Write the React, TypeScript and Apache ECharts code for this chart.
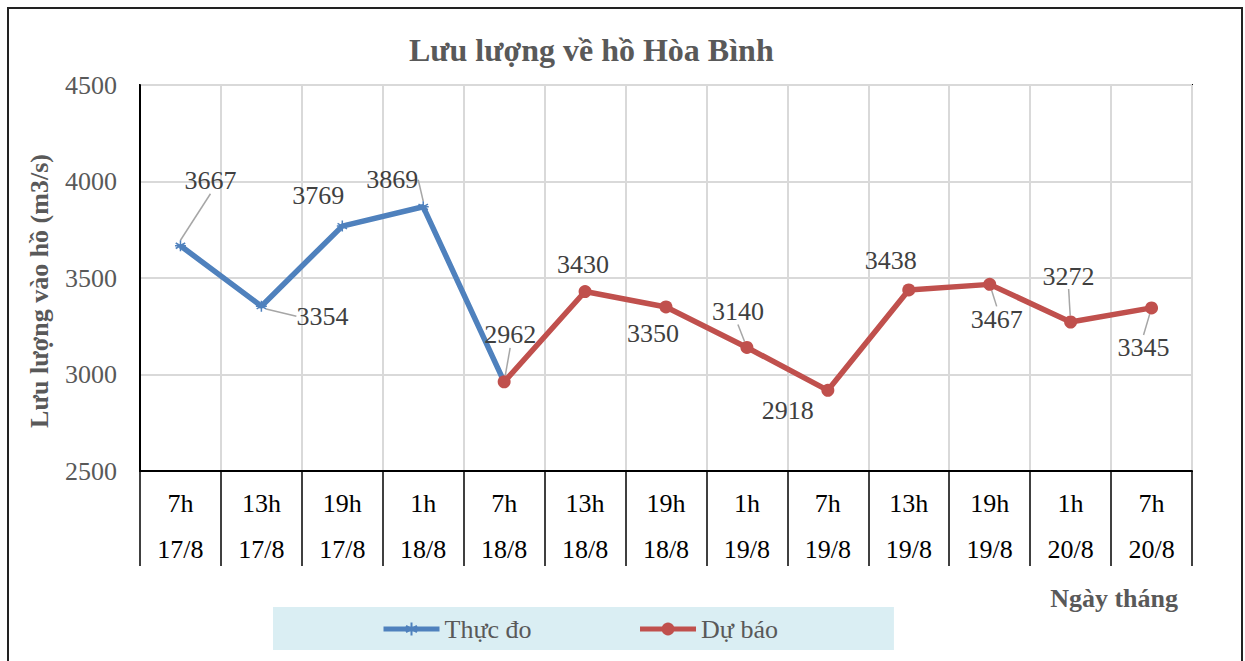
import React, { useEffect, useRef } from "react";
import * as echarts from "echarts";

const hourLabels = ["7h", "13h", "19h", "1h", "7h", "13h", "19h", "1h", "7h", "13h", "19h", "1h", "7h"];
const dateLabels = ["17/8", "17/8", "17/8", "18/8", "18/8", "18/8", "18/8", "19/8", "19/8", "19/8", "19/8", "20/8", "20/8"];
const measured: (number | null)[] = [3667, 3354, 3769, 3869, 2962, null, null, null, null, null, null, null, null];
const forecast: (number | null)[] = [null, null, null, null, 2962, 3430, 3350, 3140, 2918, 3438, 3467, 3272, 3345];
const yTicks = { min: 2500, max: 4500, interval: 500 };

// label offsets (dx, dy) relative to each point, and whether a leader line is drawn
const measuredLabelOffsets: [number, number, boolean][] = [
  [30, -65, true], [61, 10, true], [-24, -31, false], [-31, -27, true],
];
const forecastLabelOffsets: Record<number, [number, number, boolean]> = {
  4: [6, -47, true], 5: [-2, -27, false], 6: [-13, 27, false], 7: [-9, -36, true],
  8: [-40, 20, false], 9: [-18, -29, false], 10: [7, 35, true], 11: [-2, -46, true], 12: [-8, 40, true],
};

const FONT = "'Liberation Serif', 'Times New Roman', serif";
const BLUE = "#4F81BD";
const RED = "#C0504D";
const LABEL_COLOR = "#404040";

export default function App() {
  const ref = useRef<HTMLDivElement>(null);
  useEffect(() => {
    if (!ref.current) return;
    const chart = echarts.init(ref.current, undefined, { renderer: "svg" });
    const categories = hourLabels.map((h, i) => h + "\n" + dateLabels[i]);

    const labelBase = {
      show: true,
      position: "inside",
      fontFamily: FONT,
      fontSize: 26,
      color: LABEL_COLOR,
    };

    const measuredData = measured.map((v, i) => {
      const off = measuredLabelOffsets[i];
      if (v === null) return v;
      if (!off) return { value: v, label: { show: false } };
      return { value: v, labelLine: { show: off[2] } };
    });
    const forecastData = forecast.map((v, i) => {
      const off = forecastLabelOffsets[i];
      if (v === null) return v;
      return { value: v, labelLine: { show: off ? off[2] : false } };
    });

    const labelLineStyle = { lineStyle: { color: "#A6A6A6", width: 1.5 } };

    chart.setOption({
      animation: false,
      backgroundColor: "#fff",
      title: {
        text: "Lưu lượng về hồ Hòa Bình",
        left: 404,
        top: 29,
        textStyle: { fontFamily: FONT, fontSize: 32, fontWeight: "bold", color: "#595959" },
      },
      grid: {
        left: 140,
        right: 53,
        top: 85,
        bottom: 190,
        show: true,
        borderColor: "#000",
        borderWidth: 2,
        containLabel: false,
      },
      legend: {
        left: 273,
        top: 607,
        backgroundColor: "#DAEEF3",
        padding: [9, 116, 8, 108],
        itemWidth: 56,
        itemHeight: 16,
        itemGap: 106,
        lineStyle: { width: 5 },
        textStyle: { fontFamily: FONT, fontSize: 26, color: "#595959" },
        data: ["Thực đo", "Dự báo"],
      },
      xAxis: {
        type: "category",
        data: categories,
        boundaryGap: true,
        axisLine: { show: true, lineStyle: { color: "#000", width: 2 } },
        axisTick: { show: true, interval: 0, length: 95, lineStyle: { color: "#000", width: 1.5 } },
        axisLabel: {
          interval: 0,
          margin: 9,
          fontFamily: FONT,
          fontSize: 26,
          lineHeight: 46,
          color: "#000",
        },
        splitLine: { show: true, interval: 0, lineStyle: { color: "#D9D9D9", width: 2 } },
      },
      yAxis: {
        type: "value",
        min: yTicks.min,
        max: yTicks.max,
        interval: yTicks.interval,
        name: "Lưu lượng vào hồ (m3/s)",
        nameLocation: "middle",
        nameGap: 88,
        nameTextStyle: {
          fontFamily: FONT,
          fontSize: 26,
          fontWeight: "bold",
          color: "#595959",
          padding: [0, 26, 0, 0],
        },
        axisLine: { show: true, lineStyle: { color: "#000", width: 2 } },
        axisTick: { show: false },
        axisLabel: {
          margin: 23,
          fontFamily: FONT,
          fontSize: 26,
          color: "#595959",
          formatter: (v: number) => String(v),
        },
        splitLine: { show: true, lineStyle: { color: "#D9D9D9", width: 2 } },
      },
      graphic: [
        {
          type: "rect",
          shape: { x: 8, y: 8, width: 1234, height: 700 },
          style: { fill: "none", stroke: "#222", lineWidth: 2 },
          silent: true,
        },
        {
          type: "text",
          right: 67,
          top: 585,
          style: {
            text: "Ngày tháng",
            font: "bold 26px " + FONT,
            fill: "#595959",
          },
        },
      ],
      series: [
        {
          name: "Thực đo",
          type: "line",
          data: measuredData,
          connectNulls: false,
          symbol: "path://M5,0L5,10M0.7,2.5L9.3,7.5M9.3,2.5L0.7,7.5M0,5L10,5",
          symbolSize: 11,
          showAllSymbol: true,
          lineStyle: { color: BLUE, width: 5.5 },
          itemStyle: { color: BLUE, borderColor: BLUE, borderWidth: 1.5 },
          label: labelBase,
          labelLine: labelLineStyle,
          labelLayout: (p: any) => {
            const off = measuredLabelOffsets[p.dataIndex];
            return off ? { dx: off[0], dy: off[1] } : {};
          },
          z: 3,
        },
        {
          name: "Dự báo",
          type: "line",
          data: forecastData,
          connectNulls: false,
          symbol: "circle",
          symbolSize: 13,
          showAllSymbol: true,
          lineStyle: { color: RED, width: 5.5 },
          itemStyle: { color: RED },
          label: labelBase,
          labelLine: labelLineStyle,
          labelLayout: (p: any) => {
            const off = forecastLabelOffsets[p.dataIndex];
            return off ? { dx: off[0], dy: off[1] } : {};
          },
          z: 4,
        },
      ],
    });
    return () => chart.dispose();
  }, []);
  return (
    <div
      ref={ref}
      style={{ position: "fixed", left: 0, top: 0, width: 1245, height: 661 }}
    />
  );
}
